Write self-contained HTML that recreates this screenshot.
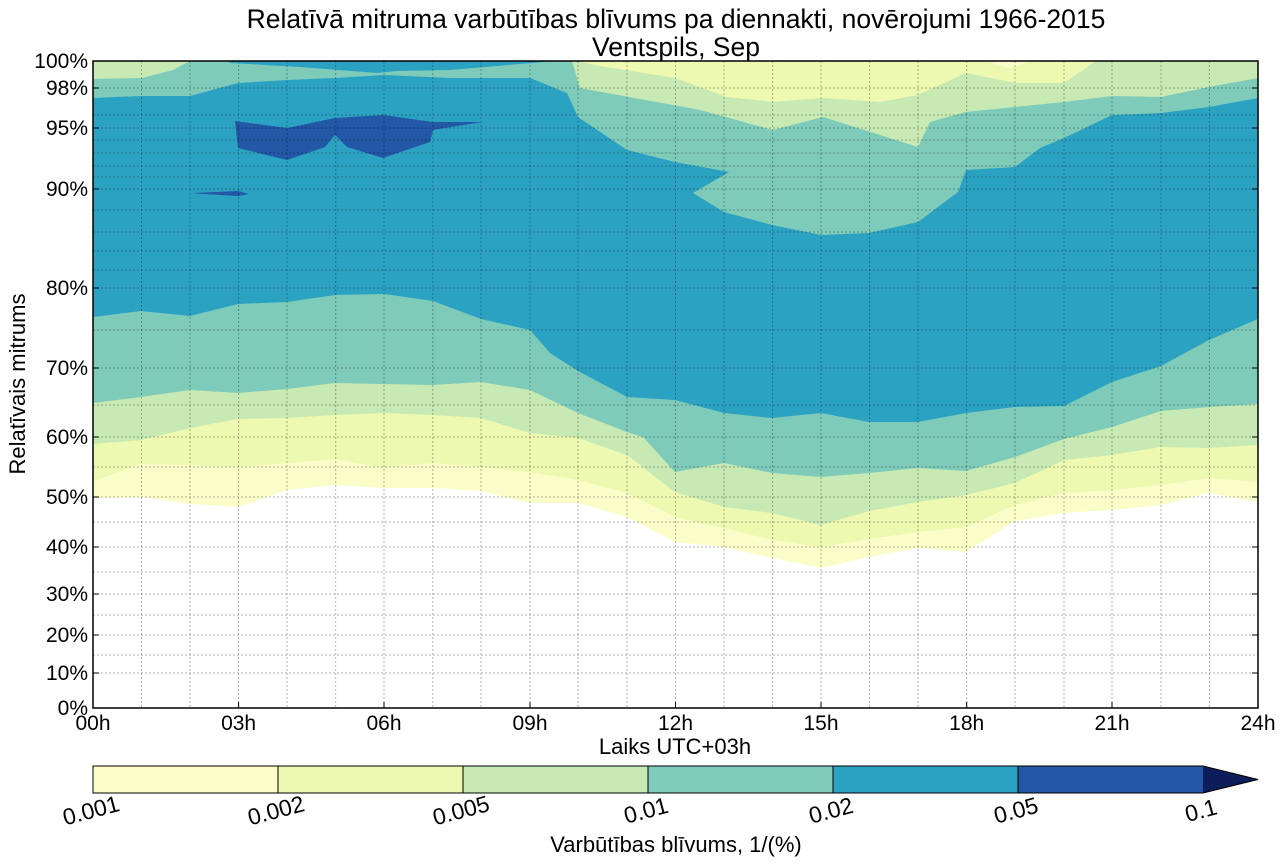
<!DOCTYPE html>
<html><head><meta charset="utf-8"><style>
html,body{margin:0;padding:0;background:#fff;}
svg text{font-family:"Liberation Sans",Arial,sans-serif;fill:#000;}
</style></head><body>
<svg width="1284" height="863" viewBox="0 0 1284 863" xmlns="http://www.w3.org/2000/svg">
<rect width="1284" height="863" fill="#fff"/>
<text x="676" y="28" font-size="26.5" text-anchor="middle">Relatīvā mitruma varbūtības blīvums pa diennakti, novērojumi 1966-2015</text>
<text x="676" y="56" font-size="26.5" text-anchor="middle">Ventspils, Sep</text>
<defs><clipPath id="c"><rect x="93" y="61" width="1165" height="647"/></clipPath></defs>
<g clip-path="url(#c)">
<polygon fill="#fafdc8" points="93,498 141,497 190,504 238,507 287,490 335,485 384,488 433,488 481,491 530,503 578,503 627,517 675,542 724,547 772,558 821,568 869,557 918,548 966,552 1015,521 1064,513 1112,510 1161,505 1209,493 1258,502 1258,61 93,61"/>
<polygon fill="#edf8b1" points="93,481 141,464 190,465 238,467 287,463 335,459 384,468 433,463 481,467 530,472 578,480 627,493 675,517 724,528 772,540 821,547 869,539 918,532 966,527 1015,505 1064,493 1112,490 1161,485 1209,478 1258,482 1258,61 93,61"/>
<polygon fill="#c7e9b4" points="93,444 141,440 190,428 238,419 287,418 335,415 384,413 433,415 481,418 530,433 578,438 627,455 675,492 724,507 772,513 821,525 869,511 918,502 966,495 1015,483 1064,460 1112,455 1161,447 1209,448 1258,445 1258,61 93,61"/>
<polygon fill="#7ecbba" points="93,403 141,397 190,390 238,393 287,389 335,383 384,384 433,385 481,382 530,390 578,413 627,432 643,437 675,472 724,463 772,473 821,477 869,473 918,468 966,471 1015,457 1064,439 1112,427 1161,411 1209,407 1258,404 1258,61 93,61"/>
<polygon fill="#2ca2c3" points="93,317 141,311 190,316 238,304 287,302 335,295 384,294 433,301 481,319 530,330 550,353 578,371 627,397 675,400 724,413 772,418 821,413 869,422 918,422 966,413 1015,407 1064,406 1112,382 1161,366 1209,340 1258,319 1258,98 1209,107 1161,113 1112,115 1064,138 1040,148 1015,167 966,170 958,192 918,222 869,233 821,235 772,225 724,212 693,193 729,172 675,162 627,150 578,117 567,93 530,78 450,78 384,75 335,78 287,80 238,83 190,96 141,96 93,98"/>
<polygon fill="#2ca2c3" points="228,61 556,61 520,64 450,70 397,71 377,73 300,67 230,63"/>
<polygon fill="#c7e9b4" points="93,61 190,61 173,70 142,78 93,79"/>
<polygon fill="#c7e9b4" points="572,61 580,88 700,110 773,130 823,117 880,135 918,147 930,122 966,112 1064,102 1112,96 1161,97 1209,87 1258,78 1258,61"/>
<polygon fill="#edf8b1" points="577,61 600,66 675,78 727,97 773,102 823,98 880,102 918,95 966,73 1015,83 1064,83 1096,61"/>
<polygon fill="#fafdc8" points="985,61 1030,61 1010,68"/>
<polygon fill="#2258a6" points="235,121 287,128 335,118 383,115 433,122 482,122 433,130 430,142 383,158 347,147 335,135 325,147 287,160 238,148"/>
<polygon fill="#2258a6" points="193,193 238,191 249,194 238,196 203,194"/>
</g>
<g stroke="#000" stroke-opacity="0.3" stroke-width="1" stroke-dasharray="2,2" fill="none">
<path d="M141.5,61V708M190,61V708M238.6,61V708M287,61V708M335.7,61V708M384,61V708M432.8,61V708M481,61V708M530,61V708M578,61V708M627,61V708M675.5,61V708M724,61V708M772.6,61V708M821,61V708M869.6,61V708M918,61V708M966.7,61V708M1015,61V708M1064,61V708M1112,61V708M1161,61V708M1209.4,61V708"/>
<path d="M93,88H1258M93,115H1258M93,128H1258M93,140H1258M93,153H1258M93,166H1258M93,177H1258M93,189H1258M93,210H1258M93,232H1258M93,251H1258M93,270H1258M93,288H1258M93,330H1258M93,368H1258M93,405H1258M93,437H1258M93,467H1258M93,497H1258M93,522H1258M93,547H1258M93,572H1258M93,594H1258M93,615H1258M93,635H1258M93,655H1258M93,673H1258"/>
</g>
<g stroke="#000" stroke-width="1">
<path d="M1252,88H1258M1252,128H1258M1252,189H1258M1252,288H1258M1252,368H1258M1252,437H1258M1252,497H1258M1252,547H1258M1252,594H1258M1252,635H1258M1252,673H1258"/>
<path d="M93,88H99M93,128H99M93,189H99M93,288H99M93,368H99M93,437H99M93,497H99M93,547H99M93,594H99M93,635H99M93,673H99"/>
<path d="M238.6,708V702M384,708V702M530,708V702M675.5,708V702M821,708V702M966.7,708V702M1112,708V702"/>
</g>
<rect x="93" y="61" width="1165" height="647" fill="none" stroke="#000" stroke-width="1.5"/>
<g font-size="21" text-anchor="end">
<text x="88" y="68">100%</text><text x="88" y="95">98%</text><text x="88" y="135">95%</text>
<text x="88" y="196">90%</text><text x="88" y="295">80%</text><text x="88" y="375">70%</text>
<text x="88" y="444">60%</text><text x="88" y="504">50%</text><text x="88" y="554">40%</text>
<text x="88" y="601">30%</text><text x="88" y="642">20%</text><text x="88" y="680">10%</text>
<text x="88" y="715">0%</text>
</g>
<g font-size="21" text-anchor="middle">
<text x="93" y="730">00h</text><text x="238.6" y="730">03h</text><text x="384" y="730">06h</text>
<text x="530" y="730">09h</text><text x="675.5" y="730">12h</text><text x="821" y="730">15h</text>
<text x="966.7" y="730">18h</text><text x="1112" y="730">21h</text><text x="1258" y="730">24h</text>
</g>
<text x="675" y="754" font-size="22" text-anchor="middle">Laiks UTC+03h</text>
<text transform="translate(25,384) rotate(-90)" font-size="22" text-anchor="middle">Relatīvais mitrums</text>
<rect x="93" y="766" width="185" height="27" fill="#fafdc8"/>
<rect x="278" y="766" width="185" height="27" fill="#edf8b1"/>
<rect x="463" y="766" width="185" height="27" fill="#c7e9b4"/>
<rect x="648" y="766" width="185" height="27" fill="#7ecbba"/>
<rect x="833" y="766" width="185" height="27" fill="#2ca2c3"/>
<rect x="1018" y="766" width="185" height="27" fill="#2258a6"/>
<polygon points="1203,766 1258,779.5 1203,793" fill="#0c1d5a"/>
<g stroke="#000" stroke-width="1" fill="none">
<path d="M278,766V793M463,766V793M648,766V793M833,766V793M1018,766V793"/>
<path d="M1203,766H93V793H1203L1258,779.5Z"/>
</g>
<g font-size="23" text-anchor="middle">
<text transform="translate(93,818) rotate(-15)">0.001</text>
<text transform="translate(278,818) rotate(-15)">0.002</text>
<text transform="translate(463,818) rotate(-15)">0.005</text>
<text transform="translate(648,818) rotate(-15)">0.01</text>
<text transform="translate(833,818) rotate(-15)">0.02</text>
<text transform="translate(1018,818) rotate(-15)">0.05</text>
<text transform="translate(1203,818) rotate(-15)">0.1</text>
</g>
<text x="676" y="852" font-size="22" text-anchor="middle">Varbūtības blīvums, 1/(%)</text>
</svg>
</body></html>
